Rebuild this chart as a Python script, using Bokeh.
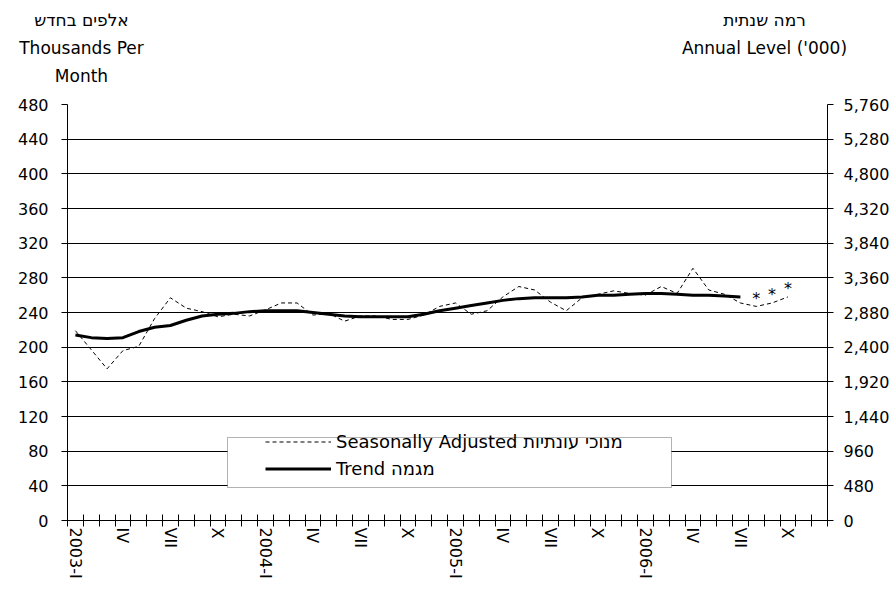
from bokeh.plotting import figure
from bokeh.models import (Range1d, LinearAxis, FixedTicker, NumeralTickFormatter,
                          Legend, LegendItem, BoxAnnotation)
from bokeh.core.properties import value
from bokeh.embed import file_html
from bokeh.resources import INLINE

FONT = "DejaVu Sans"

# ---- data (thousands per month), monthly Jan 2003 .. Dec 2006 ----
month_index = list(range(48))
seasonally_adjusted = [219, 197, 175, 196, 201, 233, 257, 245, 241, 235, 238, 236,
                       243, 251, 251, 237, 239, 230, 236, 236, 232, 232, 237, 247,
                       251, 238, 242, 258, 270, 266, 252, 242, 257, 261, 265, 262,
                       260, 270, 262, 291, 266, 261, 251, 247, 251, 258]
trend = [214, 211, 210, 211, 218, 223, 225, 231, 236, 238, 239, 241,
         242, 242, 242, 240, 238, 236, 235, 235, 235, 235, 238, 242,
         245, 248, 251, 254, 256, 257, 257, 257, 258, 260, 260, 261,
         262, 262, 261, 260, 260, 259, 258]
provisional_index = [43, 44, 45]
provisional_mark = ["*", "*", "*"]

x_tick_positions = month_index[::3]
x_tick_labels = ["2003-I", "IV", "VII", "X", "2004-I", "IV", "VII", "X",
                 "2005-I", "IV", "VII", "X", "2006-I", "IV", "VII", "X"]
left_ticks = [0, 40, 80, 120, 160, 200, 240, 280, 320, 360, 400, 440, 480]
right_ticks = [0, 480, 960, 1440, 1920, 2400, 2880, 3360, 3840, 4320, 4800, 5280, 5760]

left_caption = "אלפים בחדש\nThousands Per\nMonth"
right_caption = "רמה שנתית\nAnnual Level ('000)\n\u00a0"

sa_x = month_index[:len(seasonally_adjusted)]
tr_x = month_index[:len(trend)]

p = figure(width=896, height=590, output_backend="svg", toolbar_location=None,
           x_range=Range1d(-0.5, 47.5), y_range=Range1d(0, 480),
           min_border_left=67, min_border_right=69, min_border_top=104, min_border_bottom=70,
           background_fill_color="white", border_fill_color="white",
           outline_line_color=None)

# grid
p.xgrid.visible = False
p.ygrid.ticker = FixedTicker(ticks=left_ticks)
p.ygrid.grid_line_color = "black"
p.ygrid.grid_line_width = 1

# left axis
ya = p.yaxis[0]
ya.ticker = FixedTicker(ticks=left_ticks)
ya.major_tick_in = 0
ya.major_tick_out = 6
ya.minor_tick_line_color = None
ya.major_label_standoff = 13
ya.major_label_text_font = FONT
ya.major_label_text_font_size = "16px"
ya.major_label_text_color = "black"
ya.axis_line_color = "black"
ya.major_tick_line_color = "black"

# right axis
p.extra_y_ranges = {"annual": Range1d(0, 5760)}
ra = LinearAxis(y_range_name="annual", ticker=FixedTicker(ticks=right_ticks),
                formatter=NumeralTickFormatter(format="0,0"))
ra.major_tick_in = 0
ra.major_tick_out = 6
ra.minor_tick_line_color = None
ra.major_label_standoff = 10
ra.major_label_text_font = FONT
ra.major_label_text_font_size = "16px"
ra.major_label_text_color = "black"
ra.axis_line_color = "black"
ra.major_tick_line_color = "black"
p.add_layout(ra, "right")

# x axis: tick marks between months, labels at quarter months
xa = p.xaxis[0]
xa.ticker = FixedTicker(ticks=x_tick_positions, minor_ticks=[i - 0.5 for i in range(49)])
xa.major_label_overrides = {pos: lab for pos, lab in zip(x_tick_positions, x_tick_labels)}
xa.major_tick_in = 0
xa.major_tick_out = 0
xa.minor_tick_in = 6
xa.minor_tick_out = 6
xa.minor_tick_line_color = "black"
xa.major_label_orientation = "vertical"
xa.major_label_standoff = 1
xa.major_label_text_font = FONT
xa.major_label_text_font_size = "16px"
xa.major_label_text_color = "black"
xa.axis_line_color = "black"

# unit captions above the plot (an invisible axis in frame-pixel units)
p.extra_x_ranges = {"caption": Range1d(0, 760)}
ca = LinearAxis(x_range_name="caption", ticker=FixedTicker(ticks=[14, 697]))
ca.major_label_overrides = {14: left_caption, 697: right_caption}
ca.axis_line_color = None
ca.major_tick_line_color = None
ca.minor_tick_line_color = None
ca.major_tick_in = 0
ca.major_tick_out = 0
ca.major_label_standoff = 19
ca.major_label_text_font = FONT
ca.major_label_text_font_size = "17px"
ca.major_label_text_line_height = 1.38
ca.major_label_text_color = "black"
p.add_layout(ca, "above")

# series
sa_r = p.line(sa_x, seasonally_adjusted, line_color="black", line_width=1, line_dash="4 3")
tr_r = p.line(tr_x, trend, line_color="black", line_width=3)
p.text(x=provisional_index, y=[seasonally_adjusted[i] for i in provisional_index],
       text=provisional_mark, y_offset=-8, text_align="center", text_baseline="middle",
       text_font=value(FONT), text_font_size="16px", text_color="black")

# legend box + legend
box = BoxAnnotation(left=160, right=604, bottom=33, top=83,
                    left_units="screen", right_units="screen",
                    bottom_units="screen", top_units="screen",
                    fill_color="white", fill_alpha=1, line_color="black", line_width=1)
p.add_layout(box)
legend = Legend(items=[LegendItem(label="Seasonally Adjusted מנוכי עונתיות", renderers=[sa_r]),
                       LegendItem(label="Trend מגמה", renderers=[tr_r])],
                location=(198, 41), padding=0, margin=0, spacing=6,
                glyph_width=66, glyph_height=19, label_height=19, label_standoff=5,
                label_text_font=FONT, label_text_font_size="18px", label_text_color="black",
                border_line_color=None, background_fill_alpha=0)
p.add_layout(legend)

open("out.html", "w").write(file_html(p, INLINE))
